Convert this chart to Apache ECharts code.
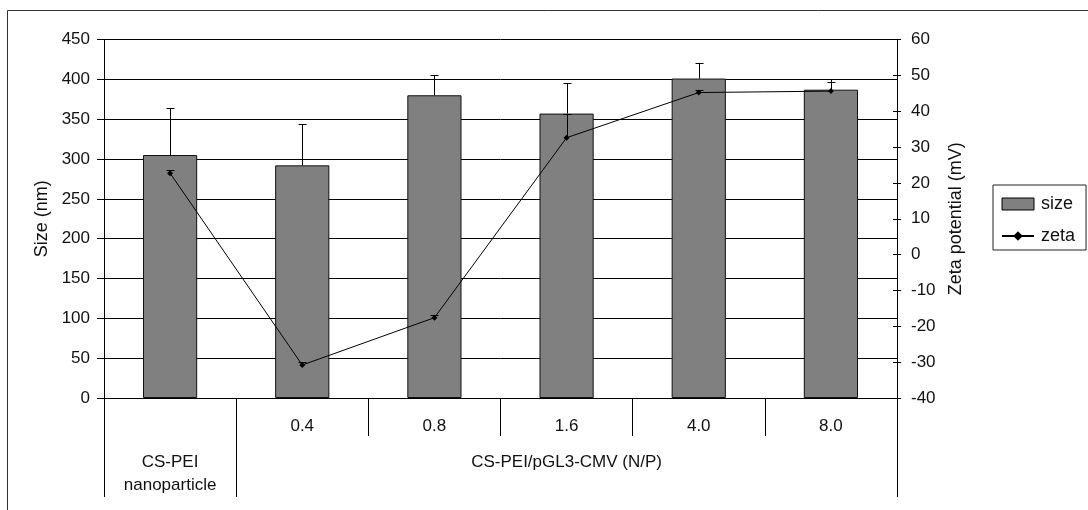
<!DOCTYPE html>
<html>
<head>
<meta charset="utf-8">
<script src="https://cdn.jsdelivr.net/npm/echarts@6/dist/echarts.min.js"></script>
<style>
  html, body { margin: 0; padding: 0; background: #fff; }
  #chart { width: 1088px; height: 510px; }
</style>
</head>
<body>
<div id="chart"></div>
<script>
// Particle size and zeta potential of CS-PEI nanoparticles and CS-PEI/pGL3-CMV complexes
const categories = ['CS-PEI\nnanoparticle', '0.4', '0.8', '1.6', '4.0', '8.0'];
const ratioLabels = ['', '0.4', '0.8', '1.6', '4.0', '8.0'];
const groupLabels = ['CS-PEI\nnanoparticle', '', '', 'CS-PEI/pGL3-CMV (N/P)', '', ''];
const sizeValues = [305, 292, 380, 357, 401, 387];
const sizeErrors = [59, 52, 25, 38, 20, 14];
const zetaValues = [22.7, -30.8, -17.6, 32.6, 45.2, 45.6];
const zetaErrors = [0.8, 0.8, 0.8, 6.6, 0.8, 2.5];

const FONT = '"Liberation Sans", Arial, sans-serif';
const TEXT = '#111';

const chart = echarts.init(document.getElementById('chart'), null, { renderer: 'canvas' });

// Vertical error bar (plus direction) with a short cap
function errorBarRenderer(values, errors) {
  return function (params, api) {
    const i = api.value(0);
    const base = api.coord([i, values[i]]);
    const top = api.coord([i, values[i] + errors[i]]);
    const x = Math.round(base[0]) + 0.5;
    const yTop = Math.round(top[1]) + 0.5;
    const style = { stroke: '#000', lineWidth: 1 };
    return {
      type: 'group',
      children: [
        { type: 'line', shape: { x1: x, y1: base[1], x2: x, y2: yTop }, style },
        { type: 'line', shape: { x1: x - 4, y1: yTop, x2: x + 4, y2: yTop }, style }
      ]
    };
  };
}

const option = {
  animation: false,
  textStyle: { fontFamily: FONT, color: TEXT },
  grid: { left: 104, right: 191, top: 39.5, bottom: 112, containLabel: false },
  graphic: [
    {
      type: 'rect',
      shape: { x: 7.5, y: 10.5, width: 1200, height: 600 },
      style: { fill: 'none', stroke: '#333', lineWidth: 1 },
      silent: true
    }
  ],
  legend: {
    orient: 'vertical',
    left: 993,
    top: 185,
    padding: [10, 11, 5, 8],
    itemGap: 14,
    itemWidth: 32,
    itemHeight: 12,
    borderColor: '#222',
    borderWidth: 1,
    textStyle: { fontFamily: FONT, fontSize: 18, color: TEXT, padding: [0, 0, 0, 2] },
    data: [
      { name: 'size', icon: 'rect', itemStyle: { color: '#808080', borderColor: '#000', borderWidth: 1 } },
      { name: 'zeta' }
    ]
  },
  xAxis: [
    {
      type: 'category',
      data: ratioLabels,
      position: 'bottom',
      axisLine: { show: true, onZero: false, lineStyle: { color: '#000', width: 1 } },
      axisTick: { show: true, length: 38, interval: 0, lineStyle: { color: '#000', width: 1 } },
      axisLabel: { interval: 0, margin: 20, fontSize: 17, color: TEXT, fontFamily: FONT },
      splitLine: { show: false }
    },
    {
      // second level: group captions, with long dividers at the group edges
      type: 'category',
      data: groupLabels,
      position: 'bottom',
      offset: 0,
      axisLine: { show: false, onZero: false },
      axisTick: {
        show: true,
        length: 99,
        interval: function (index) { return index === 0 || index === 1; },
        lineStyle: { color: '#000', width: 1 }
      },
      axisLabel: { interval: 0, margin: 53, fontSize: 17, lineHeight: 23, color: TEXT, fontFamily: FONT },
      splitLine: { show: false }
    }
  ],
  yAxis: [
    {
      type: 'value',
      min: 0, max: 450, interval: 50,
      position: 'left',
      name: 'Size (nm)',
      nameLocation: 'middle',
      nameGap: 52,
      nameRotate: 90,
      nameTextStyle: { fontSize: 18, color: TEXT, fontFamily: FONT },
      axisLine: { show: true, lineStyle: { color: '#000', width: 1 } },
      axisTick: { show: true, length: 7, lineStyle: { color: '#000', width: 1 } },
      axisLabel: { margin: 14, fontSize: 17, color: TEXT, fontFamily: FONT },
      splitLine: { show: true, lineStyle: { color: '#000', width: 1 } }
    },
    {
      type: 'value',
      min: -40, max: 60, interval: 10,
      position: 'right',
      name: 'Zeta potential (mV)',
      nameLocation: 'middle',
      nameGap: 50,
      nameRotate: 90,
      nameTextStyle: { fontSize: 18, color: TEXT, fontFamily: FONT },
      axisLine: { show: true, lineStyle: { color: '#000', width: 1 } },
      axisTick: { show: true, length: 4, lineStyle: { color: '#000', width: 1 } },
      axisLabel: { margin: 14, fontSize: 17, color: TEXT, fontFamily: FONT },
      splitLine: { show: false }
    },
    {
      // inner half of the crossing ticks on the zeta axis
      type: 'value',
      min: -40, max: 60, interval: 10,
      position: 'right',
      axisLine: { show: false },
      axisTick: { show: true, inside: true, length: 4, lineStyle: { color: '#000', width: 1 } },
      axisLabel: { show: false },
      splitLine: { show: false }
    }
  ],
  series: [
    {
      name: 'size',
      type: 'bar',
      xAxisIndex: 0,
      yAxisIndex: 0,
      data: sizeValues,
      barWidth: '41%',
      itemStyle: { color: '#808080', borderColor: '#111', borderWidth: 1 },
      z: 2
    },
    {
      name: 'size error',
      type: 'custom',
      xAxisIndex: 0,
      yAxisIndex: 0,
      data: sizeValues.map((v, i) => [i, v]),
      renderItem: errorBarRenderer(sizeValues, sizeErrors),
      z: 3
    },
    {
      name: 'zeta',
      type: 'line',
      xAxisIndex: 0,
      yAxisIndex: 1,
      data: zetaValues,
      symbol: 'diamond',
      symbolSize: 6,
      lineStyle: { color: '#000', width: 1 },
      itemStyle: { color: '#000' },
      z: 4
    },
    {
      name: 'zeta error',
      type: 'custom',
      xAxisIndex: 0,
      yAxisIndex: 1,
      data: zetaValues.map((v, i) => [i, v]),
      renderItem: errorBarRenderer(zetaValues, zetaErrors),
      z: 4
    }
  ]
};

chart.setOption(option);
</script>
</body>
</html>
